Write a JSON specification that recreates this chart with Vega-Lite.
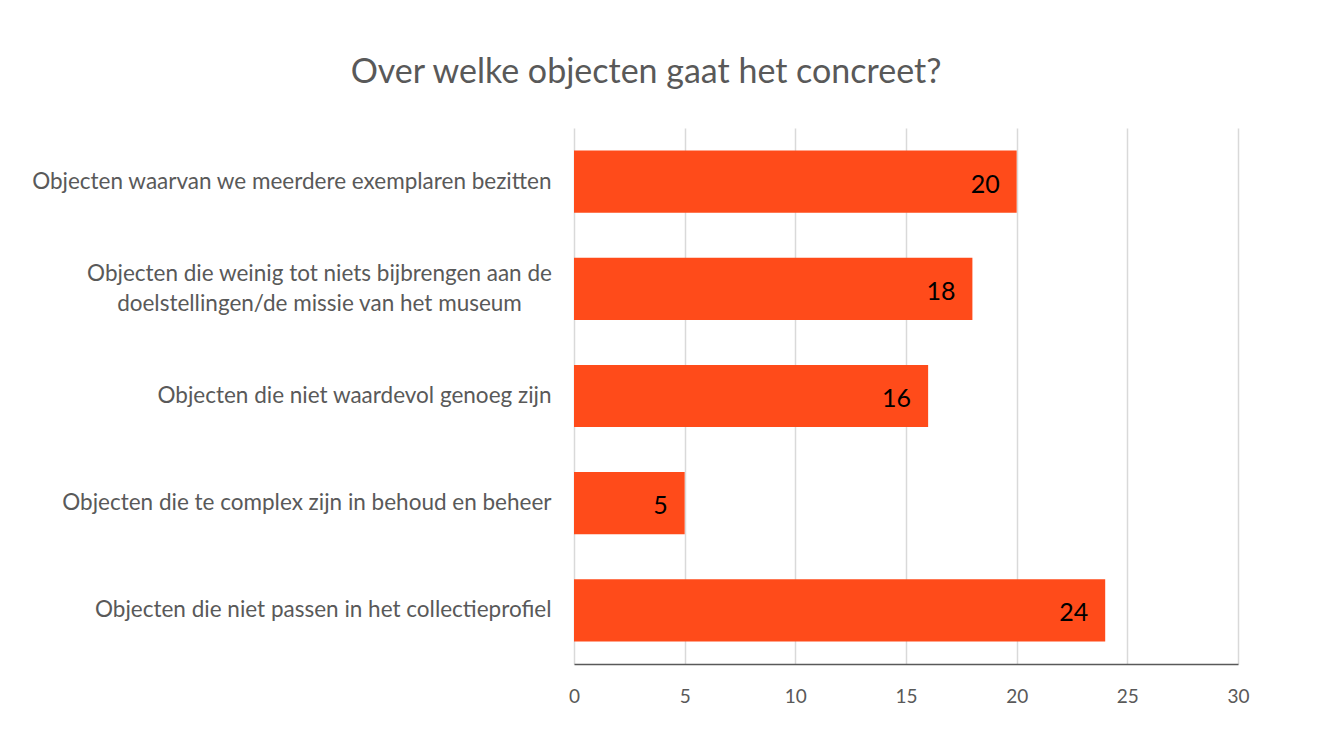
{
  "$schema": "https://vega.github.io/schema/vega-lite/v6.json",
  "width": 664,
  "height": 536,
  "autosize": {"type": "none"},
  "padding": {"left": 574, "top": 128, "right": 82, "bottom": 82},
  "background": "white",
  "title": {
    "text": "Over welke objecten gaat het concreet?",
    "font": "Lato",
    "fontSize": 34,
    "fontWeight": "normal",
    "color": "#595959",
    "offset": 38,
    "dx": -260
  },
  "data": {
    "values": [
      {"category": "Objecten waarvan we meerdere exemplaren bezitten", "count": 20},
      {"category": "Objecten die weinig tot niets bijbrengen aan de doelstellingen/de missie van het museum", "count": 18},
      {"category": "Objecten die niet waardevol genoeg zijn", "count": 16},
      {"category": "Objecten die te complex zijn in behoud en beheer", "count": 5},
      {"category": "Objecten die niet passen in het collectieprofiel", "count": 24}
    ]
  },
  "encoding": {
    "y": {
      "field": "category",
      "type": "nominal",
      "sort": null,
      "title": null,
      "scale": {"paddingInner": 0.42, "paddingOuter": 0.21},
      "axis": {
        "domain": false,
        "ticks": false,
        "grid": false,
        "labelFont": "Lato",
        "labelFontSize": 22.5,
        "labelColor": "#595959",
        "labelLimit": 0,
        "labelLineHeight": 30,
        "labelAlign": {"condition": {"test": "indexof(datum.value, 'weinig') >= 0", "value": "center"}, "value": "right"},
        "labelPadding": {"condition": {"test": "indexof(datum.value, 'weinig') >= 0", "value": 255}, "value": 23},
        "labelOffset": {"condition": {"test": "indexof(datum.value, 'weinig') >= 0", "value": -15}, "value": 0},
        "labelExpr": "indexof(datum.value, 'weinig') >= 0 ? ['Objecten die weinig tot niets bijbrengen aan de', 'doelstellingen/de missie van het museum'] : datum.label"
      }
    },
    "x": {
      "field": "count",
      "type": "quantitative",
      "title": null,
      "scale": {"domain": [0, 30], "nice": false},
      "axis": {
        "values": [0, 5, 10, 15, 20, 25, 30],
        "grid": true,
        "gridColor": "#d9d9d9",
        "gridWidth": 1.5,
        "ticks": false,
        "domain": true,
        "domainColor": "#595959",
        "domainWidth": 1.5,
        "labelFont": "Lato",
        "labelFontSize": 19,
        "labelColor": "#595959",
        "labelPadding": 23,
        "labelFlush": false
      }
    }
  },
  "layer": [
    {"mark": {"type": "bar", "color": "#FF4B1A"}},
    {
      "mark": {"type": "text", "align": "right", "baseline": "middle", "dx": -17, "dy": 3, "font": "Lato", "fontSize": 25, "color": "#000000"},
      "encoding": {"text": {"field": "count", "type": "quantitative"}}
    }
  ],
  "config": {"view": {"stroke": null}}
}
